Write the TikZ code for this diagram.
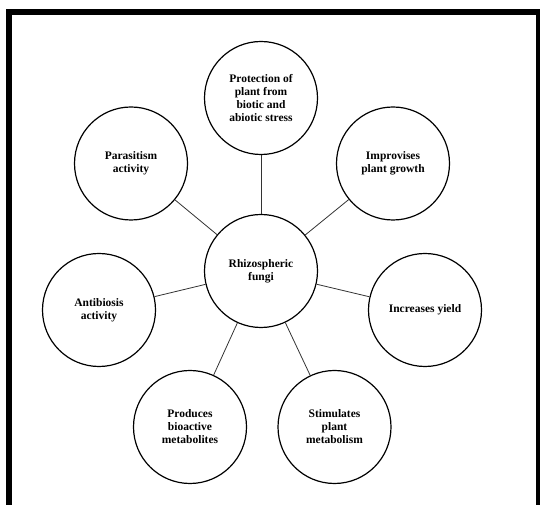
\documentclass[tikz,border=0pt]{standalone}
\usepackage{fontspec}
\setmainfont{Liberation Serif}
\usetikzlibrary{positioning}

\begin{document}
\begin{tikzpicture}[x=1pt,y=1pt,
    main_node/.style={circle,draw,line width=1.2pt,minimum size=113pt,inner sep=1pt,align=center,font=\bfseries\fontsize{11.5}{13}\selectfont}]

    \useasboundingbox (0,0) rectangle (540,505);
    % frame
    \fill (6,0) rectangle (12,496);
    \fill (6,490) rectangle (540,496);
    \fill (536,0) rectangle (540,496);

    \node[main_node] (fungi) at (261,234) {Rhizospheric\\fungi};
    \node[main_node] (protect) at (261,407) {Protection of\\plant from\\biotic and\\abiotic stress};
    \node[main_node] (parasit) at (131,341.5) {Parasitism\\activity};
    \node[main_node] (improv) at (393,341.5) {Improvises\\plant growth};
    \node[main_node] (antibio) at (99,195) {Antibiosis\\activity};
    \node[main_node] (yield) at (425,195) {Increases yield};
    \node[main_node] (produce) at (190,78) {Produces\\bioactive\\metabolites};
    \node[main_node] (stimul) at (334.5,78) {Stimulates\\plant\\metabolism};

    \path[-,draw,black!80,line width=0.8pt]
    (fungi) edge (protect)
    (fungi) edge (parasit)
    (fungi) edge (improv)
    (fungi) edge (antibio)
    (fungi) edge (yield)
    (fungi) edge (produce)
    (fungi) edge (stimul);
\end{tikzpicture}
\end{document}
